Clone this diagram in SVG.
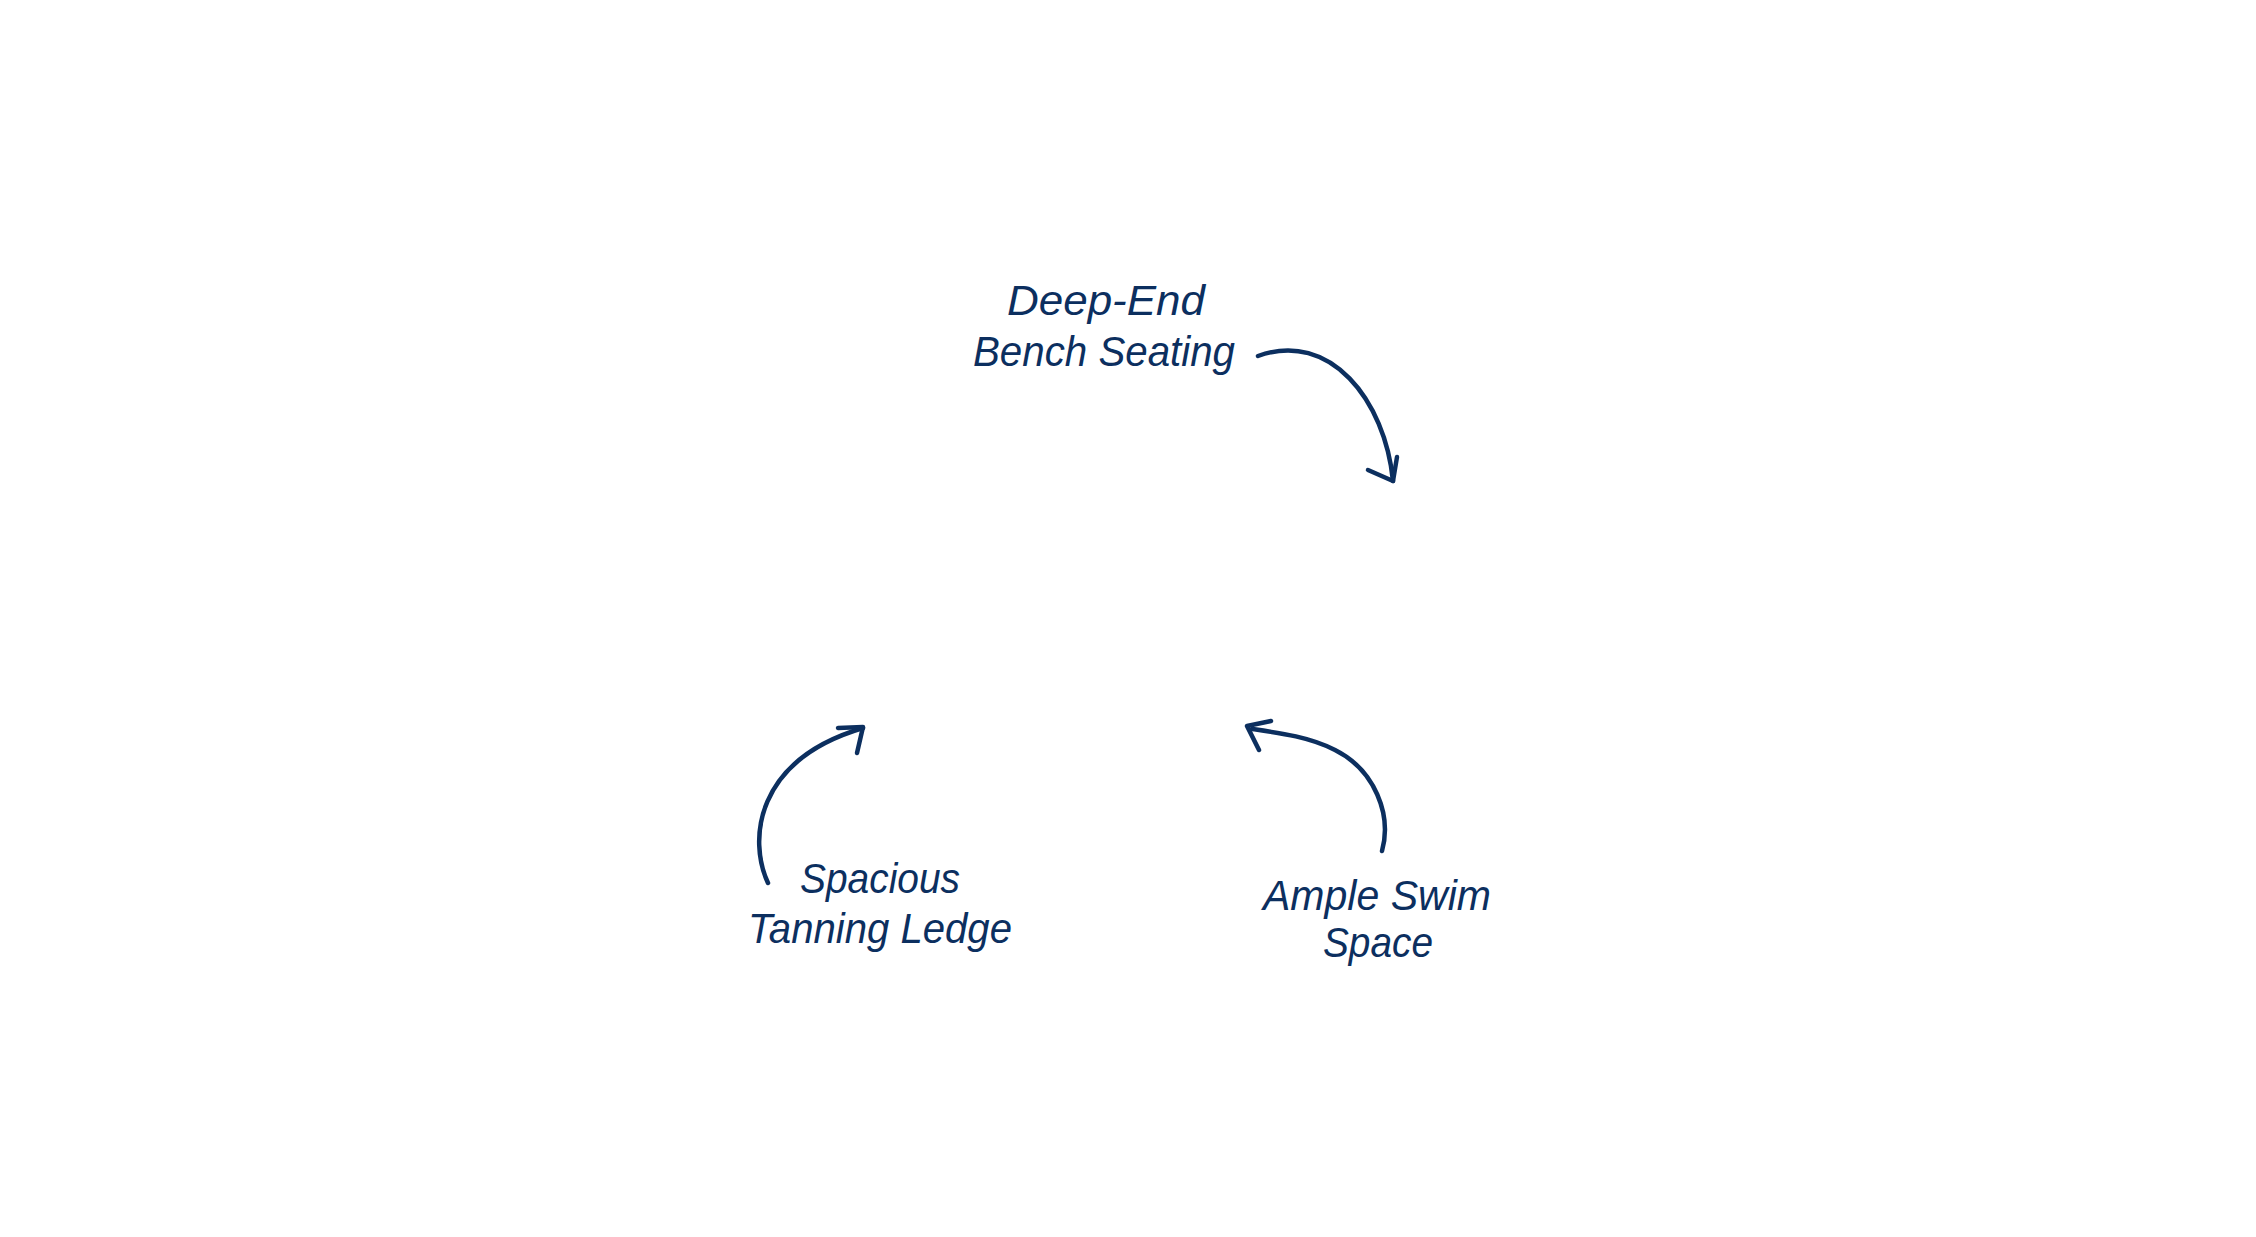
<svg xmlns="http://www.w3.org/2000/svg" width="2256" height="1237" viewBox="0 0 2256 1237">
<style>
.lbl{font-family:"Liberation Sans","DejaVu Sans",sans-serif;font-style:italic;font-size:42px;fill:#0c2f5f;text-anchor:middle}
.con{fill:none;stroke:#0c2f5f;stroke-width:4.5;stroke-linecap:round;stroke-linejoin:round}
</style>
<rect width="2256" height="1237" fill="#ffffff"/>
<g id="node-deep-end">
<text class="lbl" x="1106" y="315" textLength="198" lengthAdjust="spacingAndGlyphs">Deep-End</text>
<text class="lbl" x="1104" y="366" textLength="262" lengthAdjust="spacingAndGlyphs">Bench Seating</text>
</g>
<g id="node-tanning-ledge">
<text class="lbl" x="880" y="893" textLength="160" lengthAdjust="spacingAndGlyphs">Spacious</text>
<text class="lbl" x="880" y="943" textLength="264" lengthAdjust="spacingAndGlyphs">Tanning Ledge</text>
</g>
<g id="node-swim-space">
<text class="lbl" x="1377" y="910" textLength="228" lengthAdjust="spacingAndGlyphs">Ample Swim</text>
<text class="lbl" x="1378" y="957" textLength="110" lengthAdjust="spacingAndGlyphs">Space</text>
</g>
<g id="connectors">
<path class="con" d="M1258,356 C1330,330 1385,400 1393,481"/>
<polyline class="con" points="1368,470 1393,481 1397,457"/>
<path class="con" d="M768,883 C748,840 755,760 863,728"/>
<polyline class="con" points="838,728 863,727 857,753"/>
<path class="con" d="M1382,851 C1392,815 1375,770 1335,750 C1310,737 1280,733 1252,729"/>
<polyline class="con" points="1271,721 1247,726 1259,750"/>
</g>
</svg>
